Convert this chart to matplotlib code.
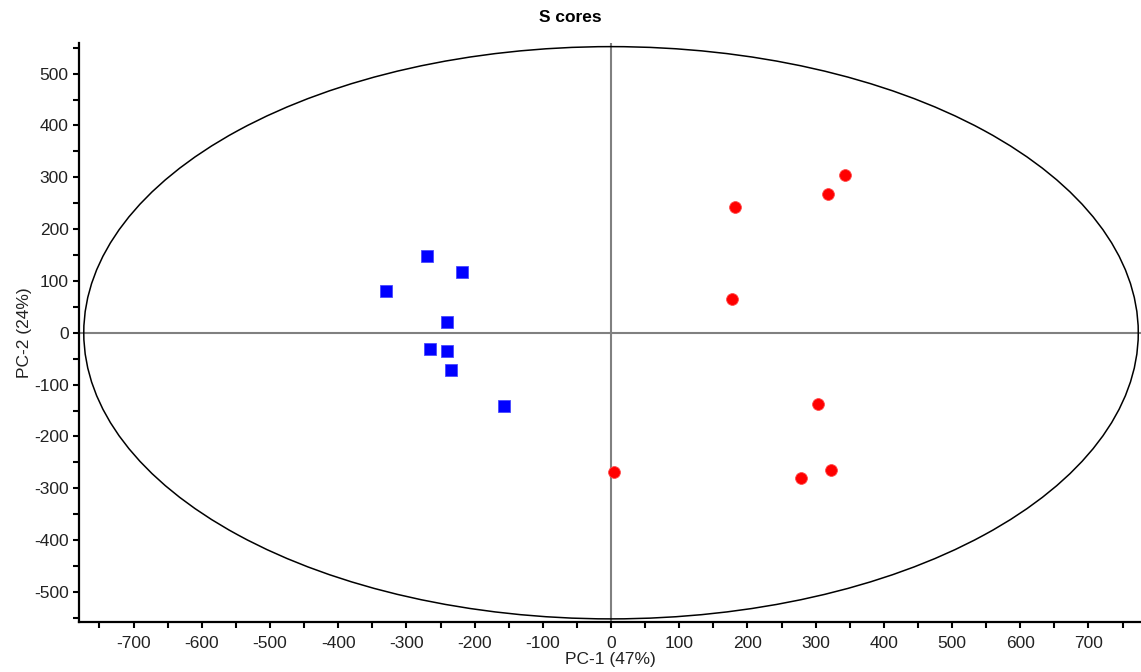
import matplotlib
matplotlib.use("Agg")
import matplotlib.pyplot as plt
from matplotlib.patches import Ellipse
from matplotlib.ticker import MultipleLocator

plt.rcParams['font.family'] = ['Liberation Sans', 'DejaVu Sans']
plt.rcParams['axes.unicode_minus'] = False

# scores
group_a_pc1 = [-270, -218, -330, -241, -265, -241, -234, -157]
group_a_pc2 = [149, 118, 81, 20, -32, -35, -72, -142]

group_b_pc1 = [343, 318, 182, 177, 303, 323, 278, 4]
group_b_pc2 = [304, 268, 243, 65, -137, -265, -281, -269]

# hotelling ellipse semi-axes
ellipse_a = 773
ellipse_b = 552

fig = plt.figure(figsize=(11.41, 6.72), dpi=100)
ax = fig.add_axes([79 / 1141, 50 / 672, 1 - 79 / 1141, 579 / 672])

ax.axhline(0, color='#808080', lw=1.5, zorder=1)
ax.axvline(0, color='#808080', lw=1.5, zorder=1)

ax.add_patch(Ellipse((0, 0), 2 * ellipse_a, 2 * ellipse_b, fill=False,
                     edgecolor='black', lw=1.1, zorder=2))

ax.plot(group_a_pc1, group_a_pc2, 's', color='#0000ff', ms=8, mec='#4a4aff',
        mew=0.6, zorder=3)
ax.plot(group_b_pc1, group_b_pc2, 'o', color='#ff0000', ms=8.5, mec='#ff4a4a',
        mew=0.6, zorder=3)

ax.set_xlim(-780, 777)
ax.set_ylim(-558, 559)

ax.xaxis.set_minor_locator(MultipleLocator(50))
ax.yaxis.set_minor_locator(MultipleLocator(50))

for side in ['top', 'right']:
    ax.spines[side].set_visible(False)
for side in ['left', 'bottom']:
    ax.spines[side].set_linewidth(1.6)

ax.tick_params(which='major', length=4, width=1.5, labelsize=12.5, colors='black',
               labelcolor='#222222')
ax.tick_params(which='minor', length=4, width=1.5)
ax.tick_params(axis='x', pad=6)

ax.set_xticks([t for t in range(-700, 701, 100)])
ax.set_yticks([t for t in range(-500, 501, 100)])

ax.set_xlabel('PC-1 (47%)', fontsize=12.5, color='#222222', labelpad=1)
ax.set_ylabel('PC-2 (24%)', fontsize=12.5, color='#222222', labelpad=1)

fig.suptitle('S cores', x=0.5, y=0.985, fontsize=12.5, fontweight='bold')

fig.savefig('out.png', dpi=100)
